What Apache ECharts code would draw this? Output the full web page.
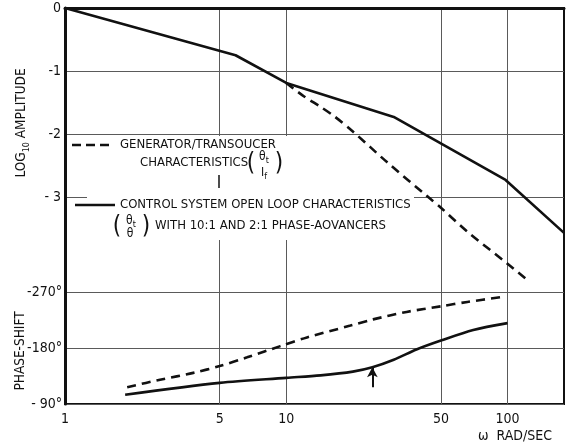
<!DOCTYPE html>
<html><head><meta charset="utf-8">
<script src="https://cdn.jsdelivr.net/npm/echarts@6/dist/echarts.min.js"></script>
<style>html,body{margin:0;padding:0;background:#fff}#c{width:572px;height:443px}</style>
</head><body><div id="c"></div>
<script>
// x ticks (rad/sec)
const xTicks = [1, 5, 10, 50, 100];
// amplitude axis ticks
const ampTicks = [0, -1, -2, -3];
const ampTickLabels = ['0', '-1', '-2', '- 3'];
// phase axis ticks (magnitude, shown negative)
const phaseTicks = [90, 180, 270];
const phaseTickLabels = ['- 90°', '-180°', '-270°'];

// Control system open loop — log10 amplitude
const omegaAmpSolid = [1, 5.9, 10, 30.6, 98, 180];
const ampSolid = [0, -0.75, -1.19, -1.73, -2.73, -3.57];
// Generator/transducer — log10 amplitude
const omegaAmpDash = [10, 12, 14.3, 16.5, 20, 28.6, 43.4, 50, 65.8, 100, 123];
const ampDash = [-1.19, -1.40, -1.57, -1.72, -1.96, -2.45, -2.99, -3.17, -3.55, -4.06, -4.32];
// Control system — phase shift (deg, magnitude)
const omegaPhaseSolid = [1.87, 5, 10, 14.3, 20, 24.5, 30.6, 39, 50, 70, 100];
const phaseSolid = [105, 124, 132, 136, 142, 149, 161, 178, 192, 209, 220];
// Generator/transducer — phase shift
const omegaPhaseDash = [1.91, 2.69, 3.8, 5, 6.65, 9.4, 12.4, 19.5, 24.7, 35, 50, 65.8, 95];
const phaseDash = [117, 129, 140, 151, 165, 183, 197, 216, 226, 238, 247, 254, 262];
// arrow marker on the phase curve
const arrowOmega = 24.5;
const arrowFrom = 117, arrowTo = 149;

const FONT = '"Liberation Sans Narrow","DejaVu Sans Condensed","Liberation Sans",sans-serif';
const INK = '#111';
const GRIDC = '#5a5a5a';

const zip = (a, b) => a.map((v, i) => [v, b[i]]);
const chart = echarts.init(document.getElementById('c'), null, {renderer: 'canvas'});

function txt(x, y, text, size, align, extra) {
  return Object.assign({type: 'text', z: 10, style: {x, y, text, font: size + 'px ' + FONT, fill: INK, textAlign: align || 'left', textVerticalAlign: 'middle'}}, extra || {});
}
function sub(x, y, main, s, size) {
  return {type: 'text', z: 10, style: {x, y, text: '{m|' + main + '}{s|' + s + '}', textAlign: 'center', textVerticalAlign: 'middle',
    rich: {m: {font: size + 'px ' + FONT, fill: INK, lineHeight: size + 2, verticalAlign: 'bottom'}, s: {font: (size - 3) + 'px ' + FONT, fill: INK, lineHeight: size + 2, verticalAlign: 'bottom', padding: [0, 0, -2, 0]}}}};
}

const option = {
  animation: false,
  backgroundColor: '#fff',
  grid: {left: 65, right: 8, top: 8, bottom: 39, show: true, borderColor: INK, borderWidth: 2, backgroundColor: 'transparent'},
  xAxis: {
    type: 'log', logBase: 10, min: 1, max: 180,
    axisLine: {show: true, lineStyle: {color: INK, width: 3}},
    axisTick: {show: false, customValues: xTicks},
    axisLabel: {customValues: xTicks, color: INK, fontFamily: FONT, fontSize: 14, margin: 8},
    splitLine: {show: true, lineStyle: {color: GRIDC, width: 1}},
    minorSplitLine: {show: false}
  },
  yAxis: [{
    type: 'value', min: -6.286, max: 0, position: 'left',
    axisLine: {show: true, lineStyle: {color: INK, width: 3}},
    axisTick: {show: false, customValues: ampTicks},
    axisLabel: {customValues: ampTicks, color: INK, fontFamily: FONT, fontSize: 14, margin: 4,
      formatter: v => ampTickLabels[ampTicks.indexOf(v)] ?? ''},
    splitLine: {show: true, lineStyle: {color: GRIDC, width: 1}}
  }, {
    type: 'value', min: 90, max: 726.4, position: 'left',
    axisLine: {show: false},
    axisTick: {show: false, customValues: phaseTicks},
    axisLabel: {customValues: phaseTicks, color: INK, fontFamily: FONT, fontSize: 14, margin: 3,
      formatter: v => phaseTickLabels[phaseTicks.indexOf(v)] ?? ''},
    splitLine: {show: true, lineStyle: {color: GRIDC, width: 1}}
  }],
  series: [
    {type: 'line', name: 'ampSolid', xAxisIndex: 0, yAxisIndex: 0, data: zip(omegaAmpSolid, ampSolid), symbol: 'none', z: 5,
      lineStyle: {color: INK, width: 2.6}},
    {type: 'line', name: 'ampDash', xAxisIndex: 0, yAxisIndex: 0, data: zip(omegaAmpDash, ampDash), symbol: 'none', smooth: 0.3, z: 5,
      lineStyle: {color: INK, width: 2.6, type: [9, 6]}},
    {type: 'line', name: 'phaseSolid', xAxisIndex: 0, yAxisIndex: 1, data: zip(omegaPhaseSolid, phaseSolid), symbol: 'none', smooth: 0.3, z: 5,
      lineStyle: {color: INK, width: 2.6},
      markLine: {silent: true, symbol: ['none', 'arrow'], symbolSize: [8, 10], label: {show: false},
        lineStyle: {color: INK, width: 2, type: 'solid'},
        data: [[{coord: [arrowOmega, arrowFrom]}, {coord: [arrowOmega, arrowTo]}]]}},
    {type: 'line', name: 'phaseDash', xAxisIndex: 0, yAxisIndex: 1, data: zip(omegaPhaseDash, phaseDash), symbol: 'none', smooth: 0.3, z: 5,
      lineStyle: {color: INK, width: 2.6, type: [9, 6]}}
  ],
  graphic: {elements: [
    // white panel behind the key (hides grid lines there)
    {type: 'rect', z: 1, shape: {x: 68, y: 136, width: 224, height: 56}, style: {fill: '#fff'}},
    {type: 'rect', z: 1, shape: {x: 87, y: 190, width: 327, height: 50}, style: {fill: '#fff'}},
    {type: 'line', z: 2, shape: {x1: 219, y1: 175, x2: 219, y2: 188}, style: {stroke: INK, lineWidth: 1.5}},
    // key samples
    {type: 'line', z: 10, shape: {x1: 72, y1: 145, x2: 114, y2: 145}, style: {stroke: INK, lineWidth: 2.6, lineDash: [9, 5]}},
    {type: 'line', z: 10, shape: {x1: 75, y1: 205, x2: 115, y2: 205}, style: {stroke: INK, lineWidth: 2.6}},
    txt(120, 145, 'GENERATOR/TRANSOUCER', 13),
    txt(140, 163, 'CHARACTERISTICS', 13),
    txt(251, 164, '(', 24, 'center'),
    sub(264, 156, 'θ', 't', 12),
    sub(264, 172, 'I', 'f', 12),
    txt(279, 164, ')', 24, 'center'),
    txt(120, 205, 'CONTROL SYSTEM OPEN LOOP CHARACTERISTICS', 13),
    txt(117, 227, '(', 24, 'center'),
    sub(131, 220, 'θ', 't', 12),
    txt(130, 234, 'θ', 12, 'center'),
    txt(146, 227, ')', 24, 'center'),
    txt(155, 226, 'WITH 10:1 AND 2:1 PHASE-AOVANCERS', 13),
    // axis titles
    {type: 'text', z: 10, x: 20, y: 123, rotation: Math.PI / 2, style: {x: 0, y: 0, text: '{a|LOG}{s|10}{a| AMPLITUDE}', textAlign: 'center', textVerticalAlign: 'middle',
      rich: {a: {font: '13.5px ' + FONT, fill: INK, lineHeight: 16, verticalAlign: 'bottom'}, s: {font: '9px ' + FONT, fill: INK, lineHeight: 16, verticalAlign: 'bottom', padding: [0, 0, -3, 0]}}}},
    {type: 'text', z: 10, x: 20, y: 351, rotation: Math.PI / 2, style: {x: 0, y: 0, text: 'PHASE-SHIFT', font: '13.5px ' + FONT, fill: INK, textAlign: 'center', textVerticalAlign: 'middle'}},
    txt(515, 436, 'ω  RAD/SEC', 14, 'center')
  ]}
};
chart.setOption(option);
</script></body></html>
